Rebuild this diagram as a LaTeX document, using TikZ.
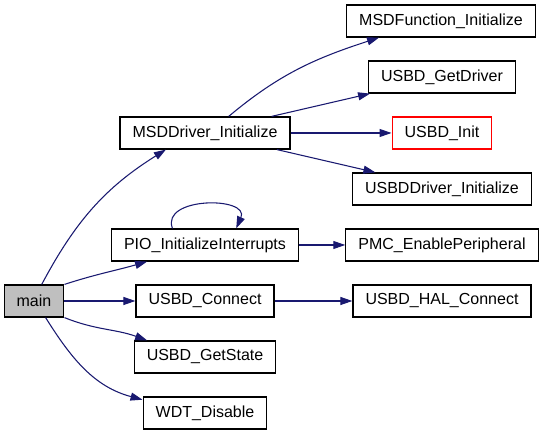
\documentclass[tikz,border=0pt]{standalone}
\usepackage{fontspec}
\setmainfont{Liberation Sans}
\usetikzlibrary{arrows.meta}
\definecolor{callblue}{HTML}{191970}
\definecolor{rootgray}{HTML}{BFBFBF}
\begin{document}
\begin{tikzpicture}[x=0.75pt,y=0.75pt,
  fn/.style={draw,line width=0.9pt,rectangle,minimum height=24pt,inner xsep=9.4pt,inner ysep=0pt,font=\fontsize{12}{14}\selectfont},
  call/.style={draw=callblue,line width=0.8pt,-{Triangle[length=9pt,width=6pt]}}]
\useasboundingbox (0,0) rectangle (544,435);
\node[fn,fill=rootgray] (main) at (34,134) {main};
\node[fn] (msddrv) at (205,302) {MSDDriver\_Initialize};
\node[fn] (pio) at (205,190) {PIO\_InitializeInterrupts};
\node[fn] (connect) at (205,134) {USBD\_Connect};
\node[fn] (getstate) at (205,78) {USBD\_GetState};
\node[fn] (wdt) at (205,22) {WDT\_Disable};
\node[fn] (msdfunc) at (441,414) {MSDFunction\_Initialize};
\node[fn] (getdrv) at (442,358) {USBD\_GetDriver};
\node[fn,draw=red] (init) at (442,302) {USBD\_Init};
\node[fn] (usbddrv) at (442,246) {USBDDriver\_Initialize};
\node[fn] (pmc) at (442,190) {PMC\_EnablePeripheral};
\node[fn] (hal) at (442,134) {USBD\_HAL\_Connect};
\draw[call] (main.65) to[out=62,in=212] (msddrv.203);
\draw[call] (main.north east) to[out=18,in=196] (pio.196);
\draw[call] (main) -- (connect);
\draw[call] (main.south east) to[out=-22,in=160] (getstate.164);
\draw[call] (main.-55) to[out=-58,in=165] (wdt.168);
\draw[call] (msddrv.35) to[out=40,in=198] (msdfunc.195);
\draw[call] (msddrv.14) -- (getdrv.193);
\draw[call] (msddrv) -- (init);
\draw[call] (msddrv.-13) -- (usbddrv.166);
\draw[call] (pio.153) .. controls +(-12,32) and +(14,32) .. (pio.28);
\draw[call] (pio) -- (pmc);
\draw[call] (connect) -- (hal);
\end{tikzpicture}
\end{document}
